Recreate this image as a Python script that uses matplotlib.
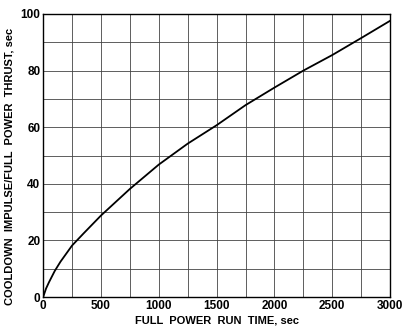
import matplotlib.pyplot as plt

# values
run_time = [0, 25, 50, 100, 150, 250, 350, 500, 750, 1000, 1250, 1500,
            1750, 2000, 2250, 2500, 2750, 3000]
impulse = [0, 3.0, 5.2, 9.2, 12.5, 18.2, 22.5, 28.8, 38.2, 46.8, 54.2, 60.7,
           67.8, 74.0, 80.0, 85.5, 91.5, 97.6]

x_ticks = [0, 500, 1000, 1500, 2000, 2500, 3000]
y_ticks = [0, 20, 40, 60, 80, 100]

plt.rcParams['font.family'] = ['Liberation Sans', 'DejaVu Sans']

fig = plt.figure(figsize=(4.15, 3.33), dpi=100)
ax = fig.add_axes([0.104, 0.108, 0.836, 0.85])

ax.plot(run_time, impulse, color='black', lw=1.3)

ax.set_xlim(0, 3000)
ax.set_ylim(0, 100)
ax.set_xticks(x_ticks)
ax.set_yticks(y_ticks)
ax.set_xticks(range(0, 3001, 250), minor=True)
ax.set_yticks(range(0, 101, 10), minor=True)
ax.grid(which='both', color='#444444', lw=0.6)
ax.tick_params(which='both', length=0, labelsize=8.5, pad=2)
for lab in ax.get_xticklabels() + ax.get_yticklabels():
    lab.set_fontweight('bold')
for s in ax.spines.values():
    s.set_linewidth(1.0)

ax.set_xlabel('FULL  POWER  RUN  TIME, sec', fontsize=8, fontweight='bold', labelpad=3)
ax.set_ylabel('COOLDOWN  IMPULSE/FULL  POWER  THRUST, sec', fontsize=8,
              fontweight='bold')
ax.yaxis.set_label_coords(-0.082, 0.46)

fig.savefig('out.png', dpi=100)
